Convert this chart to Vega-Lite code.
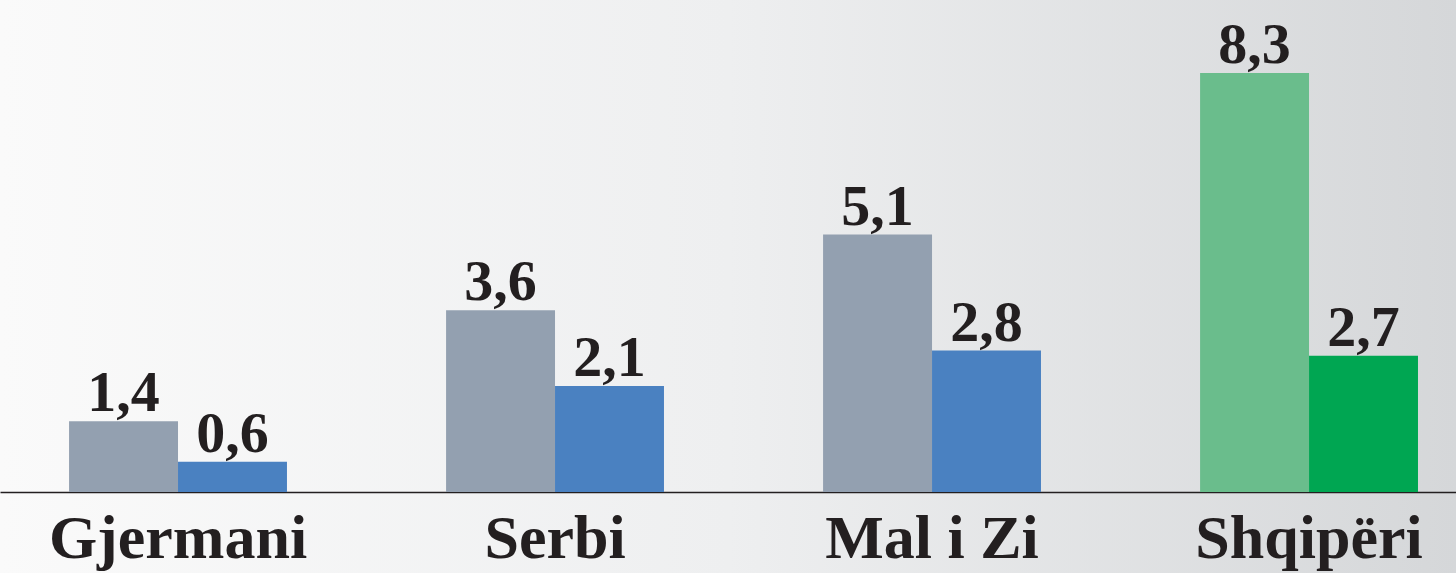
{
  "$schema": "https://vega.github.io/schema/vega-lite/v6.json",
  "width": 1456,
  "height": 573,
  "autosize": {"type": "none"},
  "padding": 0,
  "background": "#f3f4f5",
  "data": {
    "values": [
      {"vendi": "Gjermani", "seria": "1", "lloji": "tjetër 1", "vlera": 1.4},
      {"vendi": "Gjermani", "seria": "2", "lloji": "tjetër 2", "vlera": 0.6},
      {"vendi": "Serbi", "seria": "1", "lloji": "tjetër 1", "vlera": 3.6},
      {"vendi": "Serbi", "seria": "2", "lloji": "tjetër 2", "vlera": 2.1},
      {"vendi": "Mal i Zi", "seria": "1", "lloji": "tjetër 1", "vlera": 5.1},
      {"vendi": "Mal i Zi", "seria": "2", "lloji": "tjetër 2", "vlera": 2.8},
      {"vendi": "Shqipëri", "seria": "1", "lloji": "Shqipëri 1", "vlera": 8.3},
      {"vendi": "Shqipëri", "seria": "2", "lloji": "Shqipëri 2", "vlera": 2.7}
    ]
  },
  "encoding": {
    "x": {
      "field": "vendi",
      "type": "nominal",
      "sort": null,
      "scale": {"paddingInner": 0.422, "paddingOuter": 0.142, "align": 0.645},
      "axis": {
        "orient": "bottom",
        "offset": -81,
        "title": null,
        "ticks": false,
        "tickSize": 0,
        "domainColor": "#231f20",
        "domainWidth": 1.5,
        "labelAngle": 0,
        "labelLimit": 0,
        "labelOverlap": false,
        "labelFont": "Liberation Serif",
        "labelFontWeight": "bold",
        "labelFontSize": 62,
        "labelColor": "#231f20",
        "labelBaseline": "alphabetic",
        "labelPadding": 65
      }
    },
    "xOffset": {"field": "seria", "type": "nominal", "scale": {"paddingInner": 0, "paddingOuter": 0}},
    "y": {
      "field": "vlera",
      "type": "quantitative",
      "scale": {"domain": [-1.605, 9.745], "nice": false, "zero": false},
      "axis": null
    }
  },
  "layer": [
    {
      "mark": {"type": "bar", "cornerRadius": 0},
      "encoding": {
        "y2": {"datum": 0},
        "color": {
          "field": "lloji",
          "type": "nominal",
          "scale": {
            "domain": ["tjetër 1", "tjetër 2", "Shqipëri 1", "Shqipëri 2"],
            "range": ["#93a0b0", "#4a81c1", "#6abd8c", "#00a652"]
          },
          "legend": null
        }
      }
    },
    {
      "mark": {
        "type": "text",
        "baseline": "alphabetic",
        "dy": -10,
        "font": "Liberation Serif",
        "fontWeight": "bold",
        "fontSize": 58,
        "color": "#231f20"
      },
      "encoding": {
        "text": {"field": "vlera", "type": "quantitative", "format": ".1f"}
      }
    }
  ],
  "config": {
    "locale": {"number": {"decimal": ",", "thousands": ".", "grouping": [3], "currency": ["", " €"]}},
    "view": {
      "stroke": null,
      "fill": {
        "gradient": "linear",
        "x1": 0, "y1": 0, "x2": 1, "y2": 0,
        "stops": [
          {"offset": 0, "color": "#fafafa"},
          {"offset": 0.5, "color": "#eeeff0"},
          {"offset": 1, "color": "#d5d7d9"}
        ]
      }
    }
  }
}
